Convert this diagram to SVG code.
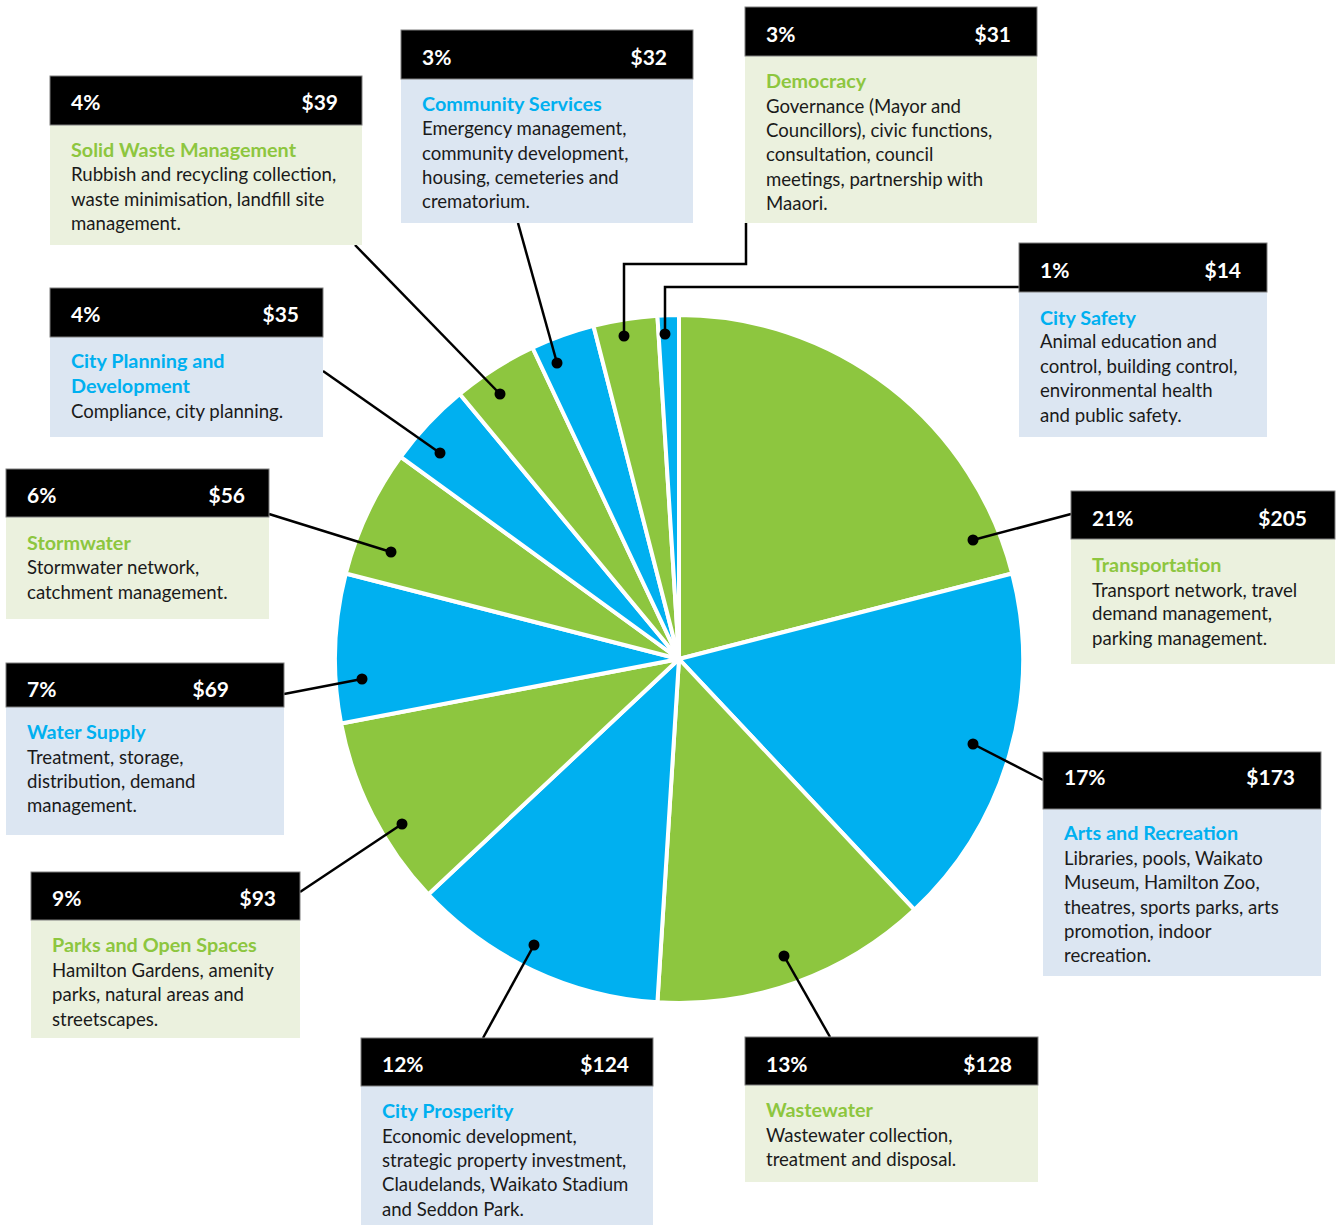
<svg xmlns="http://www.w3.org/2000/svg" width="1337" height="1225" viewBox="0 0 1337 1225">
<style>
.hd{fill:#000;stroke:#7f7f7f;stroke-width:1}
.bg{fill:#EBF1DE}
.bb{fill:#DCE6F2}
.pc{font-family:Lato,"Open Sans",sans-serif;font-weight:bold;font-size:21px;fill:#fff}
.vl{font-family:Lato,"Open Sans",sans-serif;font-weight:bold;font-size:21px;fill:#fff;text-anchor:end}
.tg{font-family:Lato,"Open Sans",sans-serif;font-weight:bold;font-size:19.8px;fill:#8DC63F}
.tb{font-family:Lato,"Open Sans",sans-serif;font-weight:bold;font-size:19.8px;fill:#00B0F0}
.tx{font-family:Lato,"Open Sans",sans-serif;font-size:18.6px;fill:#1a1a1a}
.sg{fill:#8DC63F;stroke:#fff;stroke-width:4;stroke-linejoin:round}
.sb{fill:#00B0F0;stroke:#fff;stroke-width:4;stroke-linejoin:round}
.ln{fill:none;stroke:#000;stroke-width:2.5}
.dt{fill:#000}
</style>
<rect width="1337" height="1225" fill="#fff"/>
<g id="pie">
<path class="sg" d="M679,659 L679,315 A344,344 0 0 1 1012.19,573.45 Z"/>
<path class="sb" d="M679,659 L1012.19,573.45 A344,344 0 0 1 914.49,909.77 Z"/>
<path class="sg" d="M679,659 L914.49,909.77 A344,344 0 0 1 657.40,1002.32 Z"/>
<path class="sb" d="M679,659 L657.40,1002.32 A344,344 0 0 1 428.23,894.49 Z"/>
<path class="sg" d="M679,659 L428.23,894.49 A344,344 0 0 1 341.09,723.46 Z"/>
<path class="sb" d="M679,659 L341.09,723.46 A344,344 0 0 1 345.81,573.45 Z"/>
<path class="sg" d="M679,659 L345.81,573.45 A344,344 0 0 1 400.70,456.80 Z"/>
<path class="sb" d="M679,659 L400.70,456.80 A344,344 0 0 1 459.73,393.94 Z"/>
<path class="sg" d="M679,659 L459.73,393.94 A344,344 0 0 1 532.53,347.74 Z"/>
<path class="sb" d="M679,659 L532.53,347.74 A344,344 0 0 1 593.45,325.81 Z"/>
<path class="sg" d="M679,659 L593.45,325.81 A344,344 0 0 1 657.40,315.68 Z"/>
<path class="sb" d="M679,659 L657.40,315.68 A344,344 0 0 1 679,315 Z"/>
</g>
<g id="connectors">
<line class="ln" x1="1071" y1="514" x2="973" y2="540"/>
<circle class="dt" cx="973" cy="540" r="5.5"/>
<line class="ln" x1="1043" y1="780" x2="973" y2="744"/>
<circle class="dt" cx="973" cy="744" r="5.5"/>
<line class="ln" x1="830" y1="1037" x2="784" y2="956"/>
<circle class="dt" cx="784" cy="956" r="5.5"/>
<line class="ln" x1="483" y1="1038" x2="534" y2="945"/>
<circle class="dt" cx="534" cy="945" r="5.5"/>
<line class="ln" x1="300" y1="892" x2="402" y2="824"/>
<circle class="dt" cx="402" cy="824" r="5.5"/>
<line class="ln" x1="284" y1="694" x2="362" y2="679"/>
<circle class="dt" cx="362" cy="679" r="5.5"/>
<line class="ln" x1="269" y1="514" x2="391" y2="552"/>
<circle class="dt" cx="391" cy="552" r="5.5"/>
<line class="ln" x1="323" y1="371" x2="440" y2="453"/>
<circle class="dt" cx="440" cy="453" r="5.5"/>
<line class="ln" x1="355" y1="245" x2="500" y2="394"/>
<circle class="dt" cx="500" cy="394" r="5.5"/>
<line class="ln" x1="518" y1="223" x2="557" y2="363"/>
<circle class="dt" cx="557" cy="363" r="5.5"/>
<polyline class="ln" points="746,223 746,264 624,264 624,336"/>
<circle class="dt" cx="624" cy="336" r="5.5"/>
<polyline class="ln" points="1019,287 665,287 665,334"/>
<circle class="dt" cx="665" cy="334" r="5.5"/>
</g>
<g id="solid-waste">
<rect class="bg" x="50" y="125" width="312" height="120"/>
<rect class="hd" x="50" y="76" width="312" height="49"/>
<text class="pc" x="71" y="110">4%</text><text class="vl" x="338" y="110">$39</text>
<text class="tg" x="71" y="157">Solid Waste Management</text>
<text class="tx" x="71" y="181">Rubbish and recycling collection,</text>
<text class="tx" x="71" y="206">waste minimisation, landfill site</text>
<text class="tx" x="71" y="230">management.</text>
</g>
<g id="city-planning">
<rect class="bb" x="50" y="337" width="273" height="100"/>
<rect class="hd" x="50" y="288" width="273" height="49"/>
<text class="pc" x="71" y="322">4%</text><text class="vl" x="299" y="322">$35</text>
<text class="tb" x="71" y="368">City Planning and</text>
<text class="tb" x="71" y="393">Development</text>
<text class="tx" x="71" y="418">Compliance, city planning.</text>
</g>
<g id="community-services">
<rect class="bb" x="401" y="79" width="292" height="144"/>
<rect class="hd" x="401" y="30" width="292" height="49"/>
<text class="pc" x="422" y="65">3%</text><text class="vl" x="667" y="65">$32</text>
<text class="tb" x="422" y="111">Community Services</text>
<text class="tx" x="422" y="135">Emergency management,</text>
<text class="tx" x="422" y="160">community development,</text>
<text class="tx" x="422" y="184">housing, cemeteries and</text>
<text class="tx" x="422" y="208">crematorium.</text>
</g>
<g id="democracy">
<rect class="bg" x="745" y="56" width="292" height="167"/>
<rect class="hd" x="745" y="7" width="292" height="49"/>
<text class="pc" x="766" y="42">3%</text><text class="vl" x="1011" y="42">$31</text>
<text class="tg" x="766" y="88">Democracy</text>
<text class="tx" x="766" y="113">Governance (Mayor and</text>
<text class="tx" x="766" y="137">Councillors), civic functions,</text>
<text class="tx" x="766" y="161">consultation, council</text>
<text class="tx" x="766" y="186">meetings, partnership with</text>
<text class="tx" x="766" y="210">Maaori.</text>
</g>
<g id="city-safety">
<rect class="bb" x="1019" y="292" width="248" height="145"/>
<rect class="hd" x="1019" y="243" width="248" height="49"/>
<text class="pc" x="1040" y="278">1%</text><text class="vl" x="1241" y="278">$14</text>
<text class="tb" x="1040" y="325">City Safety</text>
<text class="tx" x="1040" y="348">Animal education and</text>
<text class="tx" x="1040" y="373">control, building control,</text>
<text class="tx" x="1040" y="397">environmental health</text>
<text class="tx" x="1040" y="422">and public safety.</text>
</g>
<g id="transportation">
<rect class="bg" x="1071" y="539" width="264" height="125"/>
<rect class="hd" x="1071" y="491" width="264" height="48"/>
<text class="pc" x="1092" y="526">21%</text><text class="vl" x="1307" y="526">$205</text>
<text class="tg" x="1092" y="572">Transportation</text>
<text class="tx" x="1092" y="597">Transport network, travel</text>
<text class="tx" x="1092" y="620">demand management,</text>
<text class="tx" x="1092" y="645">parking management.</text>
</g>
<g id="arts-recreation">
<rect class="bb" x="1043" y="809" width="278" height="167"/>
<rect class="hd" x="1043" y="752" width="278" height="57"/>
<text class="pc" x="1064" y="785">17%</text><text class="vl" x="1295" y="785">$173</text>
<text class="tb" x="1064" y="840">Arts and Recreation</text>
<text class="tx" x="1064" y="865">Libraries, pools, Waikato</text>
<text class="tx" x="1064" y="889">Museum, Hamilton Zoo,</text>
<text class="tx" x="1064" y="914">theatres, sports parks, arts</text>
<text class="tx" x="1064" y="938">promotion, indoor</text>
<text class="tx" x="1064" y="962">recreation.</text>
</g>
<g id="wastewater">
<rect class="bg" x="745" y="1085" width="293" height="97"/>
<rect class="hd" x="745" y="1037" width="293" height="48"/>
<text class="pc" x="766" y="1072">13%</text><text class="vl" x="1012" y="1072">$128</text>
<text class="tg" x="766" y="1117">Wastewater</text>
<text class="tx" x="766" y="1142">Wastewater collection,</text>
<text class="tx" x="766" y="1166">treatment and disposal.</text>
</g>
<g id="city-prosperity">
<rect class="bb" x="361" y="1086" width="292" height="139"/>
<rect class="hd" x="361" y="1038" width="292" height="48"/>
<text class="pc" x="382" y="1072">12%</text><text class="vl" x="629" y="1072">$124</text>
<text class="tb" x="382" y="1118">City Prosperity</text>
<text class="tx" x="382" y="1143">Economic development,</text>
<text class="tx" x="382" y="1167">strategic property investment,</text>
<text class="tx" x="382" y="1191">Claudelands, Waikato Stadium</text>
<text class="tx" x="382" y="1216">and Seddon Park.</text>
</g>
<g id="parks-open-spaces">
<rect class="bg" x="31" y="920" width="269" height="118"/>
<rect class="hd" x="31" y="872" width="269" height="48"/>
<text class="pc" x="52" y="906">9%</text><text class="vl" x="276" y="906">$93</text>
<text class="tg" x="52" y="952">Parks and Open Spaces</text>
<text class="tx" x="52" y="977">Hamilton Gardens, amenity</text>
<text class="tx" x="52" y="1001">parks, natural areas and</text>
<text class="tx" x="52" y="1026">streetscapes.</text>
</g>
<g id="water-supply">
<rect class="bb" x="6" y="707" width="278" height="128"/>
<rect class="hd" x="6" y="663" width="278" height="44"/>
<text class="pc" x="27" y="697">7%</text><text class="vl" x="229" y="697">$69</text>
<text class="tb" x="27" y="739">Water Supply</text>
<text class="tx" x="27" y="764">Treatment, storage,</text>
<text class="tx" x="27" y="788">distribution, demand</text>
<text class="tx" x="27" y="812">management.</text>
</g>
<g id="stormwater">
<rect class="bg" x="6" y="517" width="263" height="102"/>
<rect class="hd" x="6" y="469" width="263" height="48"/>
<text class="pc" x="27" y="503">6%</text><text class="vl" x="245" y="503">$56</text>
<text class="tg" x="27" y="550">Stormwater</text>
<text class="tx" x="27" y="574">Stormwater network,</text>
<text class="tx" x="27" y="599">catchment management.</text>
</g>
</svg>
